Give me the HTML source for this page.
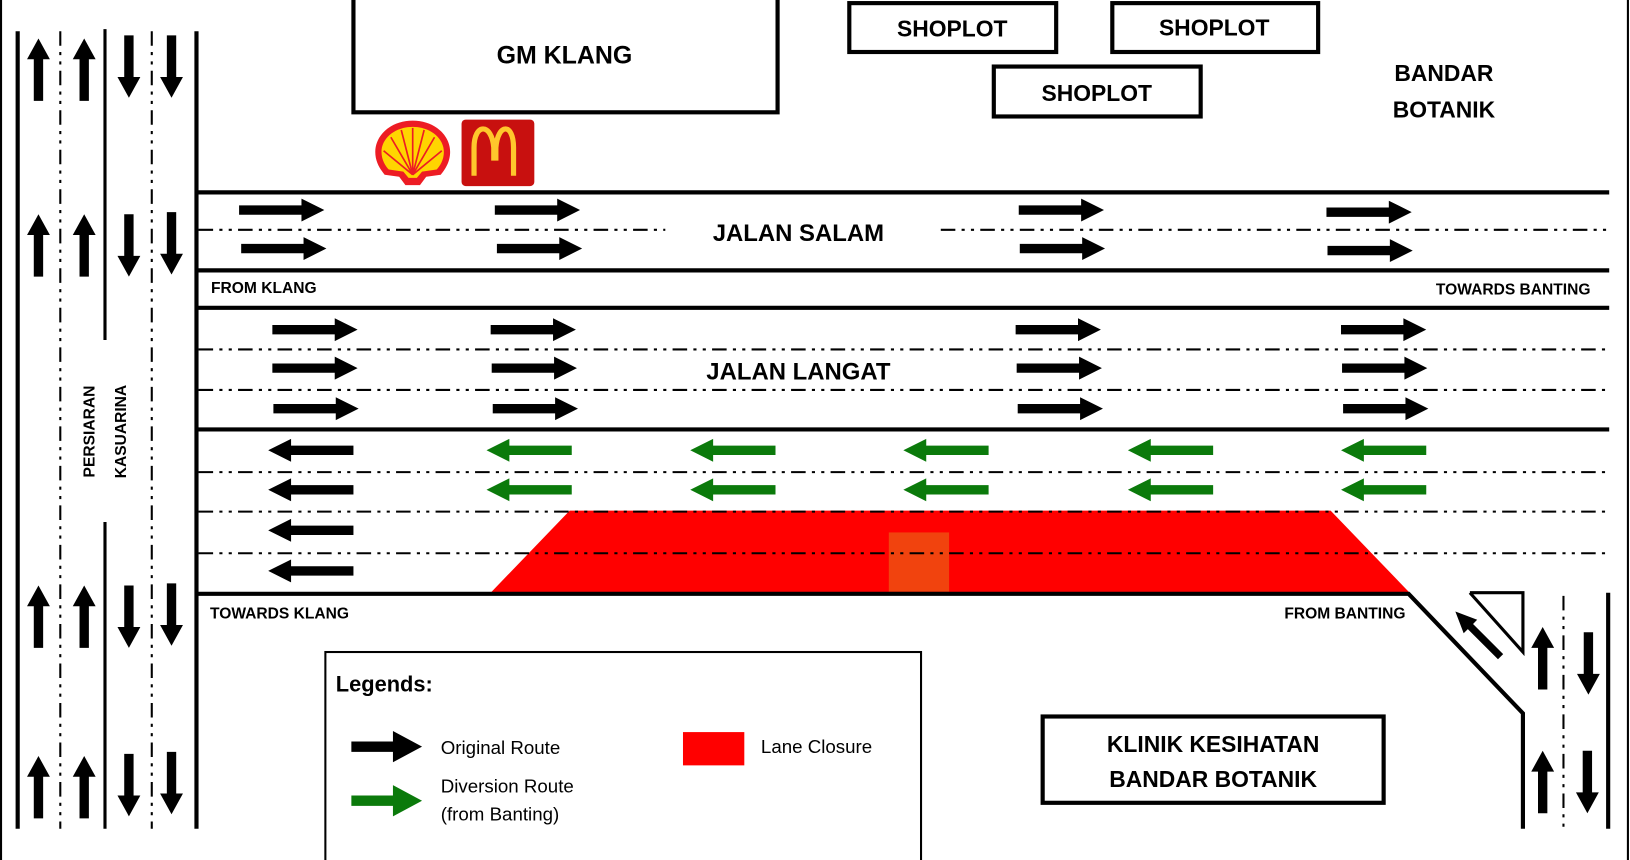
<!DOCTYPE html>
<html><head><meta charset="utf-8"><style>
html,body{margin:0;padding:0;background:#fff;width:1630px;height:860px;overflow:hidden}
svg{display:block}
text{font-family:"Liberation Sans",sans-serif;font-weight:bold;fill:#000}
text.n{font-weight:normal}
</style></head><body>
<svg width="1630" height="860" viewBox="0 0 1568 827" preserveAspectRatio="none" xmlns="http://www.w3.org/2000/svg">
<defs>
<path id="ar" d="M0,-4.5 L60,-4.5 L60,-11 L82,0 L60,11 L60,4.5 L0,4.5 Z"/>
<path id="al" d="M82,-4.5 L22,-4.5 L22,-11 L0,0 L22,11 L22,4.5 L82,4.5 Z"/>
<path id="au" d="M-4.5,60 L-4.5,20 L-11,20 L0,0 L11,20 L4.5,20 L4.5,60 Z"/>
<path id="ad" d="M-4.5,0 L-4.5,40 L-11,40 L0,60 L11,40 L4.5,40 L4.5,0 Z"/>
</defs>
<rect x="0" y="0" width="1568" height="827" fill="#fff"/>
<line x1="1" y1="0" x2="1" y2="827" stroke="#000" stroke-width="2"/>
<line x1="1566" y1="0" x2="1566" y2="827" stroke="#000" stroke-width="2"/>

<polygon points="548,491 1280,491 1356,570 472,570" fill="#ff0000"/>
<rect x="855" y="512" width="58" height="57" fill="#f04a10" opacity="0.9"/>

<g stroke="#000" stroke-width="2" stroke-dasharray="14 6 3 6 3 6" fill="none">
<line x1="58" y1="30" x2="58" y2="797"/>
<line x1="146" y1="30" x2="146" y2="797"/>
<line x1="191" y1="221" x2="640" y2="221"/>
<line x1="905" y1="221" x2="1548" y2="221"/>
<line x1="191" y1="336" x2="1548" y2="336"/>
<line x1="191" y1="375" x2="1548" y2="375"/>
<line x1="191" y1="454" x2="1548" y2="454"/>
<line x1="191" y1="492" x2="1548" y2="492"/>
<line x1="191" y1="532" x2="1548" y2="532"/>
<line x1="1504" y1="573" x2="1504" y2="797"/>
</g>

<g stroke="#000" stroke-width="4" fill="none">
<line x1="17" y1="30" x2="17" y2="797"/>
<line x1="101" y1="28" x2="101" y2="327" stroke-width="3"/>
<line x1="101" y1="502" x2="101" y2="797" stroke-width="3"/>
<line x1="189" y1="30" x2="189" y2="797"/>
<line x1="189" y1="185" x2="1548" y2="185"/>
<line x1="189" y1="260" x2="1548" y2="260"/>
<line x1="189" y1="296" x2="1548" y2="296"/>
<line x1="189" y1="413" x2="1548" y2="413"/>
<polyline points="189,571 1355,571 1465,686 1465,797"/>
<line x1="1547" y1="570" x2="1547" y2="797"/>
</g>
<polyline points="1414,570 1465,570 1465,627 1414,570" fill="none" stroke="#000" stroke-width="3"/>

<g fill="none" stroke="#000" stroke-width="4">
<rect x="340" y="-5" width="408" height="113"/>
<rect x="817" y="3" width="199" height="47"/>
<rect x="1070" y="3" width="198" height="47"/>
<rect x="956" y="64" width="199" height="48"/>
<rect x="1003" y="689" width="328" height="83"/>
</g>
<rect x="313" y="627" width="573" height="205" fill="none" stroke="#000" stroke-width="2"/>

<!-- shell -->
<path d="M397,116 C418,116 433,130 433,146 C433,156 428,163 424,168 L410,170 L404,178 L390,178 L384,170 L370,168 C366,163 361,156 361,146 C361,130 376,116 397,116 Z" fill="#ed1c24"/>
<path d="M397,122 C414,122 427,133 427,146 C427,154 423,160 420,163 L406,165 L401,171 L393,171 L388,165 L374,163 C371,160 367,154 367,146 C367,133 380,122 397,122 Z" fill="#ffd500"/>
<g stroke="#ed1c24" stroke-width="1.6"><line x1="397" y1="168" x2="397" y2="123"/><line x1="397" y1="168" x2="386" y2="125"/><line x1="397" y1="168" x2="408" y2="125"/><line x1="397" y1="168" x2="376" y2="132"/><line x1="397" y1="168" x2="418" y2="132"/><line x1="397" y1="168" x2="369" y2="145"/><line x1="397" y1="168" x2="425" y2="145"/></g>
<rect x="444" y="115" width="70" height="64" rx="4" fill="#c8100f"/>
<path d="M456,169 L456,142 C456,118 473,118 475,142 L475,152 L477,152 L477,142 C479,118 494,118 494,142 L494,169" fill="none" stroke="#ffc72c" stroke-width="5"/>

<g fill="#000">
<use href="#ar" x="230" y="202"/><use href="#ar" x="232" y="239"/>
<use href="#ar" x="476" y="202"/><use href="#ar" x="478" y="239"/>
<use href="#ar" x="980" y="202"/><use href="#ar" x="981" y="239"/>
<use href="#ar" x="1276" y="204"/><use href="#ar" x="1277" y="241"/>
<use href="#ar" x="262" y="317"/><use href="#ar" x="262" y="354"/><use href="#ar" x="263" y="393"/>
<use href="#ar" x="472" y="317"/><use href="#ar" x="473" y="354"/><use href="#ar" x="474" y="393"/>
<use href="#ar" x="977" y="317"/><use href="#ar" x="978" y="354"/><use href="#ar" x="979" y="393"/>
<use href="#ar" x="1290" y="317"/><use href="#ar" x="1291" y="354"/><use href="#ar" x="1292" y="393"/>
<use href="#al" x="258" y="433"/><use href="#al" x="258" y="471"/><use href="#al" x="258" y="510"/><use href="#al" x="258" y="549"/>
</g>
<g fill="#0b7a0b">
<use href="#al" x="468" y="433"/><use href="#al" x="468" y="471"/>
<use href="#al" x="664" y="433"/><use href="#al" x="664" y="471"/>
<use href="#al" x="869" y="433"/><use href="#al" x="869" y="471"/>
<use href="#al" x="1085" y="433"/><use href="#al" x="1085" y="471"/>
<use href="#al" x="1290" y="433"/><use href="#al" x="1290" y="471"/>
</g>
<g fill="#000">
<use href="#au" x="37" y="37"/><use href="#au" x="81" y="37"/><use href="#ad" x="124" y="34"/><use href="#ad" x="165" y="34"/>
<use href="#au" x="37" y="206"/><use href="#au" x="81" y="206"/><use href="#ad" x="124" y="206"/><use href="#ad" x="165" y="204"/>
<use href="#au" x="37" y="563"/><use href="#au" x="81" y="563"/><use href="#ad" x="124" y="563"/><use href="#ad" x="165" y="561"/>
<use href="#au" x="37" y="727"/><use href="#au" x="81" y="727"/><use href="#ad" x="124" y="725"/><use href="#ad" x="165" y="723"/>
<use href="#au" x="1484" y="603"/>
<use href="#ad" x="1528" y="608"/>
<use href="#au" x="1484" y="722"/>
<use href="#ad" x="1527" y="722"/>
<path d="M1400,588 L1421,596 L1417,600 L1446,629 L1441,634 L1412,605 L1408,609 Z"/>
</g>

<path d="M338,713 L378,713 L378,703 L406,718 L378,733 L378,723 L338,723 Z" fill="#000"/>
<path d="M338,765 L378,765 L378,755 L406,770 L378,785 L378,775 L338,775 Z" fill="#0b7a0b"/>
<rect x="657" y="704" width="59" height="32" fill="#ff0000"/>

<text x="543" y="61" font-size="24" text-anchor="middle">GM KLANG</text>
<text x="916" y="35" font-size="22" text-anchor="middle">SHOPLOT</text>
<text x="1168" y="34" font-size="22" text-anchor="middle">SHOPLOT</text>
<text x="1055" y="97" font-size="22" text-anchor="middle">SHOPLOT</text>
<text x="1389" y="78" font-size="22" text-anchor="middle">BANDAR</text>
<text x="1389" y="113" font-size="22" text-anchor="middle">BOTANIK</text>
<text x="768" y="232" font-size="23" text-anchor="middle">JALAN SALAM</text>
<text x="768" y="365" font-size="23" text-anchor="middle">JALAN LANGAT</text>
<text x="203" y="282" font-size="15">FROM KLANG</text>
<text x="1530" y="283" font-size="15" text-anchor="end">TOWARDS BANTING</text>
<text x="202" y="595" font-size="15">TOWARDS KLANG</text>
<text x="1352" y="595" font-size="15" text-anchor="end">FROM BANTING</text>
<text transform="translate(91,415) rotate(-90)" font-size="15" text-anchor="middle">PERSIARAN</text>
<text transform="translate(121,415) rotate(-90)" font-size="15" text-anchor="middle">KASUARINA</text>
<text x="1167" y="723" font-size="22" text-anchor="middle">KLINIK KESIHATAN</text>
<text x="1167" y="757" font-size="22" text-anchor="middle">BANDAR BOTANIK</text>
<text x="323" y="665" font-size="21">Legends:</text>
<text class="n" x="424" y="725" font-size="18">Original Route</text>
<text class="n" x="424" y="762" font-size="18">Diversion Route</text>
<text class="n" x="424" y="789" font-size="18">(from Banting)</text>
<text class="n" x="732" y="724" font-size="18">Lane Closure</text>
</svg>
</body></html>
